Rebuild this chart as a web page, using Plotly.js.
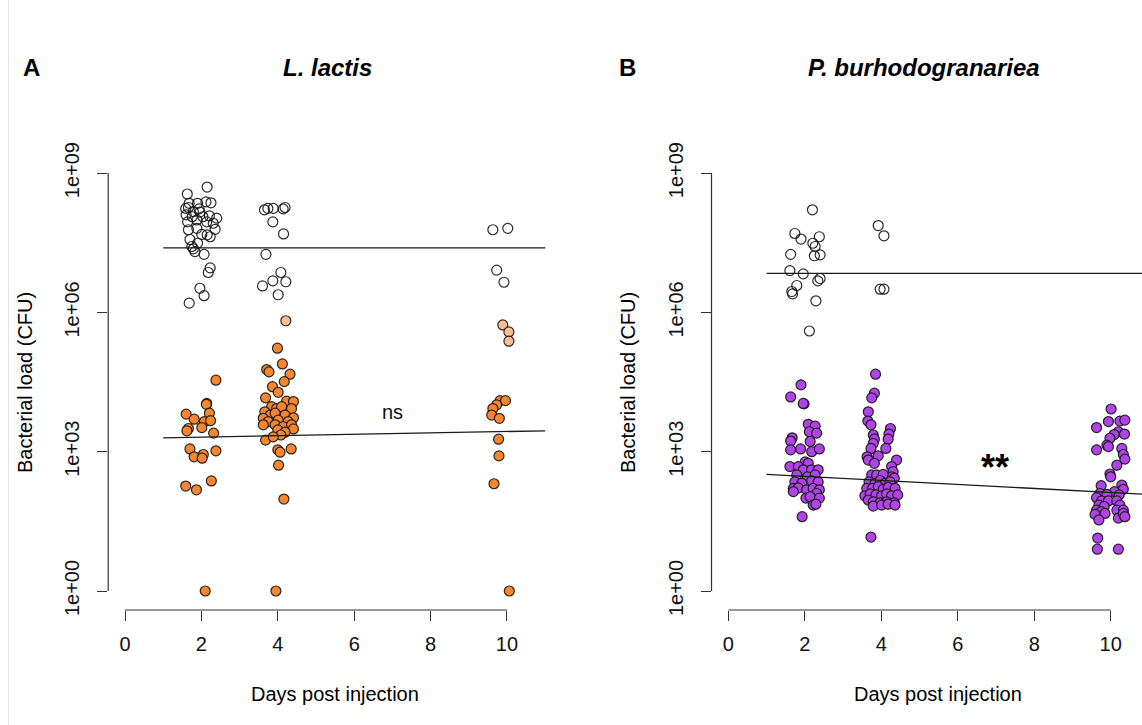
<!DOCTYPE html>
<html>
<head>
<meta charset="utf-8">
<script src="https://cdn.plot.ly/plotly-3.0.1.min.js"></script>
<style>
  html, body { margin: 0; padding: 0; background: #ffffff; }
  #chart { width: 1142px; height: 725px; }
</style>
</head>
<body>
<div id="chart"></div>
<script>
// ---------------- DATA (values are log10 bacterial load, CFU; 0 = no bacteria) ----------------
// Panel A: L. lactis  (x = jittered day post injection as plotted)
const lactisHighDay = [2.15,1.63,1.68,1.90,2.12,2.25,1.59,1.66,1.79,1.96,2.40,2.21,1.64,1.76,1.88,2.14,2.31,2.36,1.66,1.88,2.01,2.15,2.23,1.70,1.90,1.75,1.79,1.83,2.07,2.23,2.18,1.96,2.07,1.68,1.94,2.04,1.60,
                       3.65,3.74,3.88,4.14,4.19,3.87,4.15,3.69,4.08,3.87,3.60,4.21,4.01,
                       9.63,10.02,9.73,9.92];
const lactisHighLog = [8.70,8.55,8.35,8.35,8.38,8.36,8.24,8.26,8.17,8.16,8.03,8.08,7.95,8.06,7.99,7.95,7.92,7.79,7.78,7.81,7.68,7.67,7.63,7.57,7.49,7.42,7.37,7.31,7.25,6.96,6.86,6.52,6.36,6.20,8.23,8.06,8.10,
                       8.21,8.24,8.24,8.23,8.26,7.95,7.69,7.25,6.86,6.68,6.57,6.66,6.38,
                       7.78,7.81,6.91,6.65];
const lactisPaleDay = [4.21,9.89,10.05,10.05];
const lactisPaleLog = [5.82,5.73,5.58,5.38];
const lactisLowDay = [2.38,2.14,2.13,1.60,1.81,2.21,2.08,2.24,1.66,1.62,2.01,2.32,1.70,1.81,2.05,2.02,2.38,1.59,1.87,2.26,2.10,
                      3.99,4.12,3.71,3.77,4.32,4.17,3.86,4.01,3.68,4.23,4.41,3.84,3.97,4.10,4.36,3.66,3.80,3.93,4.19,4.41,3.62,3.75,4.01,4.27,3.62,3.93,4.14,4.36,4.41,4.00,4.19,4.08,3.68,3.88,4.00,4.06,4.35,4.02,4.16,3.95,
                      9.82,9.96,9.73,9.63,9.60,9.80,9.78,9.79,9.66,10.06];
const lactisLowLog = [4.54,4.04,4.02,3.81,3.70,3.83,3.65,3.67,3.50,3.45,3.52,3.40,3.06,2.89,2.94,2.86,3.02,2.26,2.18,2.37,0,
                      5.23,4.89,4.77,4.72,4.67,4.51,4.40,4.28,4.16,4.09,4.08,3.97,3.93,3.97,3.93,3.86,3.79,3.83,3.79,3.73,3.72,3.65,3.68,3.65,3.58,3.58,3.54,3.58,3.49,3.47,3.42,3.36,3.25,3.32,3.04,2.99,3.06,2.71,1.98,0,
                      4.10,4.10,4.01,3.93,3.79,3.72,3.27,2.91,2.31,0];

// Panel B: P. burhodogranariea
const burhoHighDay = [2.20,1.74,1.90,2.38,2.21,2.27,1.63,2.25,2.40,1.61,1.96,2.40,2.34,1.79,1.66,1.68,2.29,2.12,
                      3.92,4.07,3.97,4.07];
const burhoHighLog = [8.21,7.70,7.58,7.63,7.49,7.42,7.25,7.22,7.24,6.90,6.83,6.73,6.68,6.58,6.45,6.40,6.25,5.60,
                      7.87,7.65,6.50,6.50];
const burhoLowDay = [1.90,1.63,1.98,1.96,2.09,2.27,2.12,2.31,1.67,1.63,2.14,1.89,1.63,2.18,2.38,1.61,2.01,2.09,1.83,1.96,2.18,2.35,1.79,2.07,2.27,1.74,1.92,2.18,2.35,1.70,1.83,2.05,2.22,2.38,1.70,2.31,2.03,2.14,2.38,2.22,2.29,1.93,
                     3.85,3.82,3.75,3.66,3.65,3.73,3.79,3.82,3.79,4.24,4.20,4.18,3.73,4.12,3.63,3.66,3.92,3.82,4.40,4.27,4.31,4.27,4.34,
                     3.75,3.88,4.05,3.68,3.84,3.97,4.10,4.23,3.62,3.77,3.92,4.05,4.18,4.36,3.57,3.71,3.86,4.01,4.14,4.27,4.43,3.66,3.79,3.97,4.14,4.34,3.79,4.01,4.18,4.36,3.73,
                     10.01,9.63,9.94,10.24,10.37,10.20,10.36,10.09,9.98,9.90,9.94,9.63,10.29,10.33,10.37,10.16,9.98,10.00,9.75,10.29,10.33,10.10,9.72,9.90,9.63,10.22,9.76,9.94,10.16,9.69,9.83,10.24,9.63,9.75,10.16,10.33,9.59,9.85,10.20,10.33,9.69,10.37,9.66,9.65,10.20];
const burhoLowLog = [4.44,4.18,4.03,4.04,3.59,3.55,3.43,3.40,3.30,3.23,3.22,3.06,3.04,3.00,3.06,2.68,2.78,2.75,2.68,2.61,2.61,2.61,2.50,2.46,2.50,2.35,2.32,2.37,2.35,2.21,2.22,2.18,2.21,2.18,2.14,2.10,2.00,2.03,2.00,1.85,1.87,1.60,
                     4.67,4.26,4.16,3.86,3.66,3.58,3.36,3.27,3.18,3.50,3.38,3.27,3.07,3.07,2.89,2.82,2.91,2.75,2.82,2.68,2.57,2.46,2.43,
                     2.50,2.50,2.51,2.35,2.32,2.38,2.32,2.35,2.21,2.21,2.25,2.19,2.23,2.21,2.05,2.09,2.07,2.05,2.09,2.05,2.07,1.96,1.92,1.90,1.92,1.90,1.83,1.85,1.87,1.85,1.16,
                     3.92,3.52,3.65,3.66,3.68,3.43,3.38,3.37,3.29,3.14,3.11,3.04,3.07,2.94,2.84,2.71,2.52,2.46,2.27,2.28,2.19,2.14,2.10,2.08,2.01,2.07,1.94,1.94,1.94,1.85,1.82,1.85,1.74,1.71,1.74,1.74,1.65,1.67,1.57,1.67,1.53,1.60,1.14,0.90,0.90];

// fitted lines (start/end at day 1 and day 11)
const fitDays = [1, 11];
const lactisHighFit = [7.39, 7.39];
const lactisLowFit  = [3.30, 3.45];
const burhoHighFit  = [6.84, 6.84];
const burhoLowFit   = [2.51, 2.08];

const dayTicks = [0, 2, 4, 6, 8, 10];
const loadTickVals = [0, 3, 6, 9];
const loadTickText = ['1e+00', '1e+03', '1e+06', '1e+09'];
const panelTitles = ['L. lactis', 'P. burhodogranariea'];
const panelLetters = ['A', 'B'];
const xTitle = 'Days post injection';
const yTitle = 'Bacterial load (CFU)';
const sigLabels = ['ns', '**'];

// ---------------- STYLE ----------------
const W = 1142, H = 725;
const FONT = 'Liberation Sans, Arial, Helvetica, sans-serif';
const ORANGE = '#F8862E', PEACH = '#FBBE91', PURPLE = '#B044E6';
const EDGE = 'rgba(20,20,20,0.9)';
const px = v => v / W;
const py = v => 1 - v / H;

function pts(x, y, fill, xa, ya) {
  return {
    type: 'scatter', mode: 'markers', x: x, y: y, xaxis: xa, yaxis: ya,
    marker: { size: 10, color: fill, line: { color: EDGE, width: 1.2 } },
    hoverinfo: 'skip', cliponaxis: true
  };
}
function fit(y, xa, ya) {
  return { type: 'scatter', mode: 'lines', x: fitDays, y: y, xaxis: xa, yaxis: ya,
           line: { color: '#1a1a1a', width: 1.3 }, hoverinfo: 'skip' };
}
function label(text, x, y, size, extra) {
  return Object.assign({ text: text, xref: 'paper', yref: 'paper', x: px(x), y: py(y),
    xanchor: 'center', yanchor: 'middle', showarrow: false,
    font: { family: FONT, size: size, color: '#000' } }, extra || {});
}

const data = [
  pts(lactisHighDay, lactisHighLog, 'rgba(255,255,255,0)', 'x', 'y'),
  pts(lactisPaleDay, lactisPaleLog, PEACH, 'x', 'y'),
  pts(lactisLowDay, lactisLowLog, ORANGE, 'x', 'y'),
  fit(lactisHighFit, 'x', 'y'),
  fit(lactisLowFit, 'x', 'y'),
  pts(burhoHighDay, burhoHighLog, 'rgba(255,255,255,0)', 'x2', 'y2'),
  pts(burhoLowDay, burhoLowLog, PURPLE, 'x2', 'y2'),
  fit(burhoHighFit, 'x2', 'y2'),
  fit(burhoLowFit, 'x2', 'y2')
];

const yDomain = [py(610), py(156.4)];
const axisCommon = {
  showgrid: false, zeroline: false, showline: false,
  ticks: 'outside', ticklen: 10, tickwidth: 1, tickcolor: '#333',
  tickfont: { family: FONT, size: 20, color: '#111' }
};
const xAxisBase = Object.assign({}, axisCommon, { tickmode: 'array', tickvals: dayTicks, ticktext: dayTicks.map(String), ticklabelstandoff: 6 });
const yAxisBase = Object.assign({}, axisCommon, { tickmode: 'array', tickvals: loadTickVals, ticktext: loadTickText, tickangle: -90, range: [-0.409, 9.36], domain: yDomain, ticklabelstandoff: 10 });

const layout = {
  width: W, height: H,
  margin: { l: 0, r: 0, t: 0, b: 0 },
  paper_bgcolor: '#ffffff', plot_bgcolor: '#ffffff',
  showlegend: false,
  font: { family: FONT, size: 20, color: '#111' },
  xaxis: Object.assign({}, xAxisBase, { domain: [px(108.2), px(562)], range: [-0.44, 11.44], anchor: 'y' }),
  yaxis: Object.assign({}, yAxisBase, { anchor: 'x' }),
  xaxis2: Object.assign({}, xAxisBase, { domain: [px(711.5), 1], range: [-0.44, 10.818], anchor: 'y2' }),
  yaxis2: Object.assign({}, yAxisBase, { anchor: 'x2' }),
  shapes: [
    // R-style axis lines spanning only first to last tick
    { type: 'line', xref: 'x', yref: 'paper', x0: dayTicks[0], x1: dayTicks[dayTicks.length - 1], y0: yDomain[0], y1: yDomain[0], line: { color: '#333', width: 1.2 } },
    { type: 'line', xref: 'paper', yref: 'y', x0: px(108.2), x1: px(108.2), y0: loadTickVals[0], y1: loadTickVals[loadTickVals.length - 1], line: { color: '#333', width: 1.2 } },
    { type: 'line', xref: 'x2', yref: 'paper', x0: dayTicks[0], x1: dayTicks[dayTicks.length - 1], y0: yDomain[0], y1: yDomain[0], line: { color: '#333', width: 1.2 } },
    { type: 'line', xref: 'paper', yref: 'y2', x0: px(711.5), x1: px(711.5), y0: loadTickVals[0], y1: loadTickVals[loadTickVals.length - 1], line: { color: '#333', width: 1.2 } },
    // faint frame line at the left edge
    { type: 'line', xref: 'paper', yref: 'paper', x0: px(8.5), x1: px(8.5), y0: 0, y1: 1, line: { color: '#e4e4e4', width: 1 } }
  ],
  annotations: [
    label('<b>' + panelLetters[0] + '</b>', 31, 68, 24),
    label('<b><i>' + panelTitles[0] + '</i></b>', 328, 68, 24),
    label('<b>' + panelLetters[1] + '</b>', 627, 68, 24),
    label('<b><i>' + panelTitles[1] + '</i></b>', 924, 68, 24),
    label(xTitle, 335, 694, 20),
    label(xTitle, 938, 694, 20),
    label(yTitle, 25, 383, 20, { textangle: -90 }),
    label(yTitle, 628, 383, 20, { textangle: -90 }),
    { text: sigLabels[0], xref: 'x', yref: 'y', x: 7.01, y: 3.81, yshift: 2, xanchor: 'center', yanchor: 'middle', showarrow: false, font: { family: FONT, size: 20, color: '#111' } },
    { text: '<b>' + sigLabels[1] + '</b>', xref: 'x2', yref: 'y2', x: 6.97, y: 2.76, yshift: -5, xanchor: 'center', yanchor: 'middle', showarrow: false, font: { family: FONT, size: 36, color: '#000' } }
  ]
};

Plotly.newPlot('chart', data, layout, { staticPlot: true, displayModeBar: false });
</script>
</body>
</html>
